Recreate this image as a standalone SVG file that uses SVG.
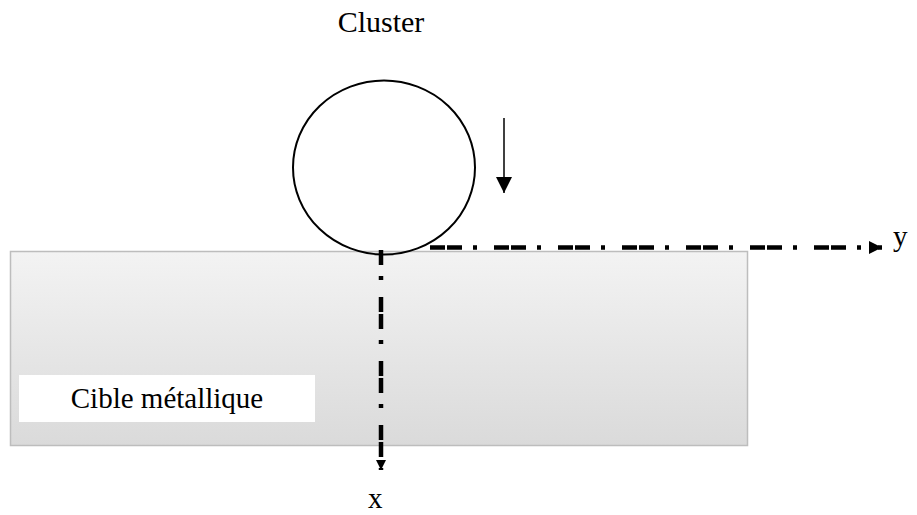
<svg xmlns="http://www.w3.org/2000/svg" width="917" height="515" viewBox="0 0 917 515">
<style>
text{font-family:"Liberation Serif","Times New Roman",serif;fill:#000}
.axis{fill:none;stroke:#000;stroke-width:4.5;stroke-dasharray:15 2 15 11 4 17}
</style>
<defs>
<linearGradient id="g" x1="0" y1="0" x2="0" y2="1">
<stop offset="0" stop-color="#f3f3f3"/>
<stop offset="1" stop-color="#dadada"/>
</linearGradient>
<marker id="ah" viewBox="0 0 10 10" refX="10" refY="5" markerWidth="13" markerHeight="13" markerUnits="userSpaceOnUse" orient="auto">
<path d="M0,0 L10,5 L0,10 Z" fill="#000"/>
</marker>
<marker id="ahx" viewBox="0 0 10 10" refX="10" refY="5" markerWidth="10" markerHeight="15" markerUnits="userSpaceOnUse" orient="auto">
<path d="M0,0 L10,5 L0,10 Z" fill="#000"/>
</marker>
<marker id="ah2" viewBox="0 0 10 10" refX="10" refY="5" markerWidth="16" markerHeight="16" markerUnits="userSpaceOnUse" orient="auto">
<path d="M0,0 L10,5 L0,10 Z" fill="#000"/>
</marker>
</defs>
<g id="target">
<rect x="10.5" y="251.5" width="737" height="194" fill="url(#g)" stroke="#bdbdbd" stroke-width="1.5"/>
<rect x="19" y="375" width="296" height="47" fill="#fff"/>
<text x="167" y="408" font-size="29" text-anchor="middle">Cible métallique</text>
</g>
<g id="cluster">
<ellipse cx="384" cy="167.5" rx="91" ry="87" fill="none" stroke="#000" stroke-width="2"/>
<text x="381" y="32" font-size="30" text-anchor="middle">Cluster</text>
</g>
<g id="connectors">
<path class="axis" d="M430,247.5 H882" marker-end="url(#ah)"/>
<path class="axis" d="M381,250 V470" marker-end="url(#ahx)" style="stroke-dasharray:15 11 4 17 15 2"/>
<path d="M504,118 V193" stroke="#000" stroke-width="1.5" marker-end="url(#ah2)"/>
</g>
<text x="893" y="246" font-size="29">y</text>
<text x="368" y="508" font-size="29">x</text>
</svg>
